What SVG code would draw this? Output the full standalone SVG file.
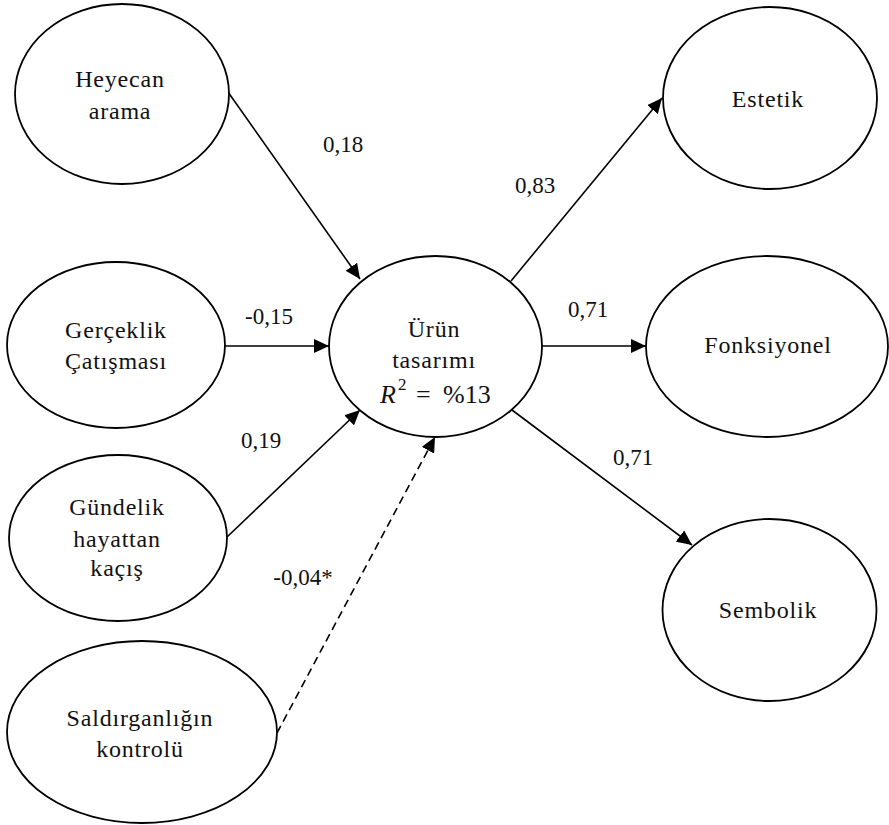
<svg xmlns="http://www.w3.org/2000/svg" width="889" height="825" viewBox="0 0 889 825">
<style>
.node ellipse{fill:#fff;stroke:#000;stroke-width:1.8}
.nt{font-family:'Liberation Serif','Times New Roman',serif;font-size:24px;letter-spacing:0.8px;text-anchor:middle;fill:#111}
.lbl{font-family:'Liberation Serif','Times New Roman',serif;font-size:23px;text-anchor:middle;fill:#111}
.math{font-family:'Liberation Serif','Times New Roman',serif;font-size:26px;fill:#111}
.edge{stroke:#000;stroke-width:1.6;fill:none;marker-end:url(#ah)}
.dash{stroke-dasharray:8 5}
</style>
<defs>
<marker id="ah" markerUnits="userSpaceOnUse" markerWidth="16" markerHeight="14" refX="15" refY="7" orient="auto">
<path d="M0,0 L15,7 L0,14 Z" fill="#000"/>
</marker>
</defs>
<rect width="889" height="825" fill="#fff"/>
<g id="connectors">
<line class="edge" x1="228" y1="92" x2="360" y2="279"/>
<line class="edge" x1="225" y1="346" x2="329" y2="346"/>
<line class="edge" x1="227" y1="537" x2="360" y2="410"/>
<line class="edge dash" x1="277" y1="733" x2="435" y2="437"/>
<line class="edge" x1="511" y1="281" x2="662" y2="98"/>
<line class="edge" x1="542" y1="346" x2="646" y2="346"/>
<line class="edge" x1="512" y1="410" x2="692" y2="545"/>
</g>
<g id="labels">
<text class="lbl" x="343" y="152">0,18</text>
<text class="lbl" x="269" y="324">-0,15</text>
<text class="lbl" x="261" y="448">0,19</text>
<text class="lbl" x="303" y="585">-0,04*</text>
<text class="lbl" x="535" y="193">0,83</text>
<text class="lbl" x="588" y="317">0,71</text>
<text class="lbl" x="633" y="465">0,71</text>
</g>
<g id="heyecan" class="node">
<ellipse cx="122" cy="94" rx="107" ry="90"/>
<text class="nt" x="120" y="87">Heyecan</text>
<text class="nt" x="120" y="119">arama</text>
</g>
<g id="gerceklik" class="node">
<ellipse cx="116" cy="345" rx="109" ry="83"/>
<text class="nt" x="116" y="338">Gerçeklik</text>
<text class="nt" x="116" y="369">Çatışması</text>
</g>
<g id="gundelik" class="node">
<ellipse cx="118" cy="538" rx="109" ry="83"/>
<text class="nt" x="117" y="515">Gündelik</text>
<text class="nt" x="117" y="547">hayattan</text>
<text class="nt" x="117" y="576">kaçış</text>
</g>
<g id="saldirganlik" class="node">
<ellipse cx="142" cy="732" rx="135" ry="91"/>
<text class="nt" x="140" y="726">Saldırganlığın</text>
<text class="nt" x="140" y="757">kontrolü</text>
</g>
<g id="urun" class="node">
<ellipse cx="435.5" cy="346.5" rx="106.5" ry="90.5"/>
<text class="nt" x="434" y="337">Ürün</text>
<text class="nt" x="434" y="368">tasarımı</text>
<text class="math" y="403"><tspan x="380" font-style="italic">R</tspan><tspan x="398" y="390" font-size="17">2</tspan><tspan x="416" y="403">=</tspan><tspan x="443" y="403">%13</tspan></text>
</g>
<g id="estetik" class="node">
<ellipse cx="770" cy="98" rx="107" ry="91"/>
<text class="nt" x="768" y="107">Estetik</text>
</g>
<g id="fonksiyonel" class="node">
<ellipse cx="767" cy="346.5" rx="121" ry="90.5"/>
<text class="nt" x="768" y="353">Fonksiyonel</text>
</g>
<g id="sembolik" class="node">
<ellipse cx="769.5" cy="610" rx="107" ry="91"/>
<text class="nt" x="768" y="618">Sembolik</text>
</g>
</svg>
